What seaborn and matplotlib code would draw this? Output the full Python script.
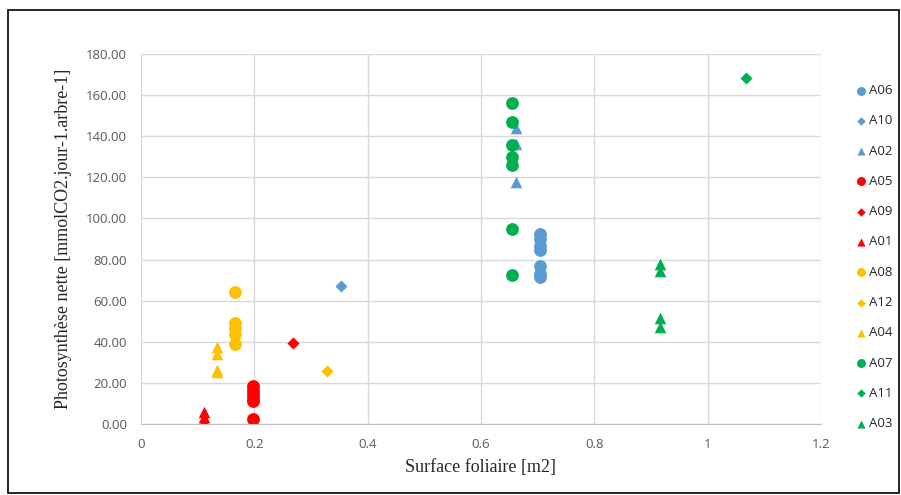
import pandas as pd
import numpy as np
import matplotlib
matplotlib.use('Agg')
import matplotlib.pyplot as plt
import seaborn as sns
from matplotlib.ticker import FormatStrFormatter, MultipleLocator
from matplotlib.patches import Rectangle

# Data: surface foliaire (m2) / photosynthese nette per tree
trees = ['A06', 'A10', 'A02', 'A05', 'A09', 'A01', 'A08', 'A12', 'A04', 'A07', 'A11', 'A03']

a06_x = [0.704] * 7
a06_y = [92.5, 90.0, 86.5, 84.5, 77.0, 73.0, 71.5]
a10_x = [0.353]
a10_y = [67.0]
a02_x = [0.662] * 3
a02_y = [144.0, 136.0, 117.5]
a05_x = [0.198] * 6
a05_y = [18.5, 16.5, 14.5, 12.5, 11.0, 2.5]
a09_x = [0.268]
a09_y = [39.5]
a01_x = [0.111] * 4
a01_y = [6.0, 3.5, 1.5, 0.2]
a08_x = [0.166] * 5
a08_y = [64.0, 49.0, 46.5, 44.0, 39.0]
a12_x = [0.328]
a12_y = [26.0]
a04_x = [0.134] * 4
a04_y = [37.5, 34.0, 26.5, 25.5]
a07_x = [0.655] * 7
a07_y = [156.0, 147.0, 135.5, 130.0, 126.0, 95.0, 72.5]
a11_x = [1.068]
a11_y = [168.3]
a03_x = [0.916] * 4
a03_y = [78.0, 74.5, 51.5, 47.0]

series = {
    'A06': (a06_x, a06_y), 'A10': (a10_x, a10_y), 'A02': (a02_x, a02_y),
    'A05': (a05_x, a05_y), 'A09': (a09_x, a09_y), 'A01': (a01_x, a01_y),
    'A08': (a08_x, a08_y), 'A12': (a12_x, a12_y), 'A04': (a04_x, a04_y),
    'A07': (a07_x, a07_y), 'A11': (a11_x, a11_y), 'A03': (a03_x, a03_y),
}

rows = []
for t in trees:
    xs, ys = series[t]
    for xv, yv in zip(xs, ys):
        rows.append({'surface': xv, 'photo': yv, 'arbre': t})
df = pd.DataFrame(rows)

# Excel-like colours and markers
blue, red, yellow, green = '#5B9BD5', '#FF0000', '#FFC000', '#00B050'
palette = {'A06': blue, 'A10': blue, 'A02': blue,
           'A05': red, 'A09': red, 'A01': red,
           'A08': yellow, 'A12': yellow, 'A04': yellow,
           'A07': green, 'A11': green, 'A03': green}
markers = {}
for t in trees:
    idx = trees.index(t) % 3
    markers[t] = ['o', 'D', '^'][idx]

sns.set_style('white')
fig = plt.figure(figsize=(9.01, 4.95), dpi=100)
ax = fig.add_axes([0.1565, 0.1434, 0.7547, 0.7475])

for t in trees:
    sub = df[df['arbre'] == t]
    m = markers[t]
    size = {'o': 85, 'D': 38, '^': 70}[m]
    sns.scatterplot(data=sub, x='surface', y='photo', color=palette[t], marker=m,
                    s=size, linewidth=0, ax=ax, label=t)

ax.set_xlim(0, 1.2)
ax.set_ylim(0, 180)
ax.xaxis.set_major_locator(MultipleLocator(0.2))
ax.yaxis.set_major_locator(MultipleLocator(20))
ax.xaxis.set_major_formatter(FormatStrFormatter('%g'))
ax.yaxis.set_major_formatter(FormatStrFormatter('%.2f'))
ax.grid(True, color='#D9D9D9', linewidth=1)
ax.set_axisbelow(True)
for side in ['top', 'right', 'left']:
    ax.spines[side].set_visible(False)
ax.spines['bottom'].set_color('#BFBFBF')
ax.tick_params(axis='both', length=0, labelsize=10.5, labelcolor='#595959', pad=10)
for lab in ax.get_xticklabels() + ax.get_yticklabels():
    lab.set_family('Open Sans')
    lab.set_fontsize(9.5)

ax.set_xlabel('Surface foliaire [m2]', family='Liberation Serif', fontsize=13, labelpad=6)
ax.set_ylabel('Photosynthèse nette [mmolCO2.jour-1.arbre-1]', family='Liberation Serif',
              fontsize=13, labelpad=10)

handles, labels = ax.get_legend_handles_labels()
ax.get_legend().remove()
leg = fig.legend(handles, labels, loc='upper left', bbox_to_anchor=(0.942, 0.841),
                 frameon=False, markerscale=0.7, handletextpad=0.1, labelspacing=1.31,
                 handlelength=1.0, borderaxespad=0, prop={'family': 'Open Sans', 'size': 9.5})

# outer chart border
fig.patches.append(Rectangle((0.009, 0.004), 0.989, 0.976, transform=fig.transFigure,
                             fill=False, edgecolor='black', linewidth=1.2))

fig.savefig('out.png', dpi=100)
